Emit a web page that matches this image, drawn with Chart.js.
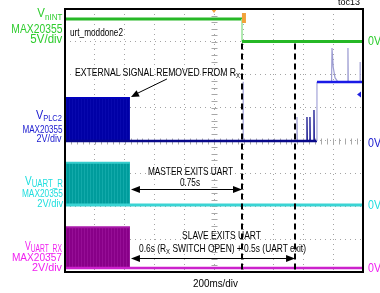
<!DOCTYPE html>
<html><head><meta charset="utf-8">
<script src="https://cdn.jsdelivr.net/npm/chart.js@4.4.1/dist/chart.umd.min.js"></script>
<style>
html,body{margin:0;padding:0;background:#fff;}
#wrap{position:relative;width:380px;height:293px;overflow:hidden;font-family:"Liberation Sans",Arial,sans-serif;}
#c{position:absolute;left:0;top:0;}
.t{position:absolute;white-space:nowrap;line-height:1;}
.t sub{font-size:0.7em;vertical-align:baseline;position:relative;top:0.3em;line-height:0;}
.t sub.big{font-size:0.78em;top:0.22em;}
</style></head><body>
<div id="wrap"><canvas id="c" width="380" height="293"></canvas></div>
<script>
// ---- data: time in ms (200 ms/div, 10 div), values in volts ----
const timeRangeMs = [0, 2000];
const tickStepMs = 200;
const eventMs = { removed: 436, masterExit: 1188, slaveExit: 1544 };

// VnINT (MAX20355), 5 V/div
const vnint = [[0, 3.42], [1188, 3.42], [1188, 0], [2000, 0]];
// VPLC2 (MAX20355), 2 V/div
const vplc2Burst = [[0, 2.62], [436, 2.62]];
const vplc2 = [[0, 0], [1691, 0], [1691, 3.59], [2000, 3.59]];
const vplc2SpikesLight = [
  [[1195, 0], [1195, 3.6], [1197, 0]],
  [[1557, 0], [1557, 1.46], [1559, 0]],
  [[1789, 3.59], [1792, 5.66], [1800, 4.5], [1812, 3.85], [1832, 3.59]],
  [[1899, 3.59], [1899, 5.66], [1901, 3.59]],
  [[1980, 3.59], [1980, 4.8], [1982, 3.59]]
];
const vplc2SpikesDark = [
  [[1624, 0], [1624, 1.46], [1626, 0]],
  [[1644, 0], [1644, 1.46], [1646, 0]],
  [[1671, 0], [1671, 1.89], [1673, 0]]
];
// VUART_R (MAX20355), 2 V/div
const uartRBurst = [[0, 2.56], [436, 2.56]];
const uartR = [[0, 0], [2000, 0]];
// VUART_RX (MAX20357), 2 V/div
const uartRxBurst = [[0, 2.49], [436, 2.49]];
const uartRx = [[0, 0], [2000, 0]];

const voltsPerDiv = { green: 5, blue: 2, cyan: 2, magenta: 2 };

// ---- colours ----
const G = '#2ecc2e', B = '#2020d0', C = '#1fdede', M = '#f020f0', K = '#000';

// ---- texts ----
const labelItems = [
  ['V<sub>nINT</sub>', 'r', 62, 18, 12.5, 25, G],
  ['MAX20355', 'r', 62, 33, 12, 51, G],
  ['5V/div', 'r', 62, 43, 12, 32, G],
  ['V<sub>PLC2</sub>', 'r', 62, 119, 12, 26, B],
  ['MAX20355', 'r', 62, 133, 11, 40, B],
  ['2V/div', 'r', 62, 142, 11, 25, B],
  ['V<sub class="big">UART_R</sub>', 'r', 63, 185, 13.5, 38, C],
  ['MAX20355', 'r', 63, 197, 10.5, 41, C],
  ['2V/div', 'r', 63, 207, 10.5, 26, C],
  ['V<sub class="big">UART_RX</sub>', 'r', 62, 250, 13.5, 37, M],
  ['MAX20357', 'r', 62, 262, 11.5, 50, M],
  ['2V/div', 'r', 62, 272, 11.5, 30, M],
  ['urt_moddone2', 'l', 70, 36, 11, 53, K],
  ['EXTERNAL SIGNAL REMOVED FROM R<sub>X</sub>', 'l', 75, 76, 10.5, 165, K],
  ['MASTER EXITS UART', 'l', 148, 175, 10.5, 85, K],
  ['0.75s', 'l', 180, 186, 10.5, 20, K],
  ['SLAVE EXITS UART', 'l', 182, 239, 10.5, 79, K],
  ['0.6s (R<sub>X</sub> SWITCH OPEN) + 0.5s (UART exit)', 'l', 139, 252, 10.5, 167, K],
  ['200ms/div', 'l', 193, 288, 11.5, 45, K],
  ['toc13', 'l', 338, 6, 9, 22, K],
  ['0V', 'l', 368, 45, 12, 13, G],
  ['0V', 'l', 368, 147, 12, 13, B],
  ['0V', 'l', 368, 209, 12, 13, C],
  ['0V', 'l', 368, 272.5, 12, 13, M]
];

const wrap = document.getElementById('wrap');
labelItems.forEach(([html, anchor, x, base, fs, w, col]) => {
  const d = document.createElement('div');
  d.className = 't';
  d.innerHTML = html;
  d.style.fontSize = fs + 'px';
  d.style.color = col;
  d.style.top = (base - 0.8465 * fs) + 'px';
  if (anchor === 'r') { d.style.right = (380 - x) + 'px'; d.style.transformOrigin = 'right center'; }
  else { d.style.left = x + 'px'; d.style.transformOrigin = 'left center'; }
  wrap.appendChild(d);
  const aw = d.getBoundingClientRect().width;
  if (aw > 0) d.style.transform = 'scaleX(' + (w / aw).toFixed(3) + ')';
});

// ---- chart ----
const canvas = document.getElementById('c');
const ctx2d = canvas.getContext('2d');
function stripes(base, line, period) {
  const c = document.createElement('canvas');
  c.width = period; c.height = 1;
  const g = c.getContext('2d');
  g.fillStyle = base; g.fillRect(0, 0, period, 1);
  g.fillStyle = line; g.fillRect(0, 0, 1, 1);
  return ctx2d.createPattern(c, 'repeat');
}
const xy = arr => arr.map(p => ({ x: p[0], y: p[1] }));
const isVert = c => c.p0.parsed.x === c.p1.parsed.x;

function chanAxis(zeroDiv, vpd) {
  return { type: 'linear', display: false, min: -zeroDiv * vpd, max: (8 - zeroDiv) * vpd };
}
const gridCfg = { color: '#a4a4a4', lineWidth: 1, drawTicks: false };
const borderCfg = { display: false, dash: [1, 4] };

const datasets = [];
datasets.push({ data: xy(vnint), yAxisID: 'yG', borderColor: '#26b826', borderWidth: 3,
  segment: { borderColor: c => isVert(c) ? '#a6e6a6' : undefined, borderWidth: c => isVert(c) ? 1 : undefined } });
datasets.push({ data: xy(vplc2), yAxisID: 'yB', borderColor: '#08088a', borderWidth: 2.5,
  segment: {
    borderColor: c => isVert(c) ? '#a4a4d8' : (c.p0.parsed.y > 2 && c.p1.parsed.y > 2 ? '#1a1ae6' : undefined),
    borderWidth: c => isVert(c) ? 1.2 : undefined } });
vplc2SpikesDark.forEach(s => datasets.push({ data: xy(s), yAxisID: 'yB', borderColor: '#141490', borderWidth: 1.3 }));
vplc2SpikesLight.forEach(s => datasets.push({ data: xy(s), yAxisID: 'yB', borderColor: '#9c9cd2', borderWidth: 1.2 }));
datasets.push({ data: xy(uartR), yAxisID: 'yC', borderColor: '#3ad4d4', borderWidth: 3 });
datasets.push({ data: xy(uartRx), yAxisID: 'yM', borderColor: '#cc22cc', borderWidth: 2.5 });
datasets.push({ data: xy(vplc2Burst), yAxisID: 'yB', borderColor: '#0000bc', borderWidth: 2, fill: 'origin',
  backgroundColor: stripes('#0000a6', '#0808ae', 3) });
datasets.push({ data: xy(uartRBurst), yAxisID: 'yC', borderColor: '#36cccc', borderWidth: 2, fill: 'origin',
  backgroundColor: stripes('#009c9c', '#12aaaa', 3) });
datasets.push({ data: xy(uartRxBurst), yAxisID: 'yM', borderColor: '#a818a8', borderWidth: 2, fill: 'origin',
  backgroundColor: stripes('#880088', '#960e96', 3) });
datasets.forEach(d => { d.pointRadius = 0; d.tension = 0; if (d.fill === undefined) d.fill = false; });

function arrowHead(ctx, tx, ty, dx, dy, len, hw) {
  const l = Math.hypot(dx, dy), ux = dx / l, uy = dy / l;
  ctx.beginPath();
  ctx.moveTo(tx, ty);
  ctx.lineTo(tx - ux * len - uy * hw, ty - uy * len + ux * hw);
  ctx.lineTo(tx - ux * len + uy * hw, ty - uy * len - ux * hw);
  ctx.closePath(); ctx.fill();
}

const deco = {
  id: 'deco',
  beforeDatasetsDraw(chart) {
    const { ctx, scales: { x, yg } } = chart;
    ctx.save();
    ctx.strokeStyle = '#a8a8a8'; ctx.lineWidth = 1;
    const cx = Math.round(x.getPixelForValue(1000)) + 0.5, cy = Math.round(yg.getPixelForValue(4)) + 0.5;
    ctx.beginPath();
    for (let i = 0; i <= 40; i++) { const py = Math.round(yg.getPixelForValue(i * 0.2)) + 0.5; ctx.moveTo(cx - 3, py); ctx.lineTo(cx + 3, py); }
    for (let i = 0; i <= 50; i++) { const px = Math.round(x.getPixelForValue(i * 40)) + 0.5; ctx.moveTo(px, cy - 3); ctx.lineTo(px, cy + 3); }
    ctx.stroke();
    ctx.restore();
  },
  afterDatasetsDraw(chart) {
    const { ctx, chartArea: a, scales: { x, yg } } = chart;
    ctx.save();
    // dashed event lines
    ctx.strokeStyle = '#000'; ctx.lineWidth = 2; ctx.setLineDash([6, 4]);
    [eventMs.masterExit, eventMs.slaveExit].forEach(t => {
      const px = Math.round(x.getPixelForValue(t));
      ctx.beginPath(); ctx.moveTo(px, yg.getPixelForValue(6.95)); ctx.lineTo(px, yg.getPixelForValue(0.06)); ctx.stroke();
    });
    ctx.setLineDash([]);
    ctx.fillStyle = '#000'; ctx.lineWidth = 1;
    const x0 = x.getPixelForValue(eventMs.removed) + 1;
    // master / slave arrows
    [[eventMs.masterExit, 2.525], [eventMs.slaveExit, 0.426]].forEach(([t, dv]) => {
      const py = Math.round(yg.getPixelForValue(dv)) + 0.5, x1 = x.getPixelForValue(t);
      ctx.beginPath(); ctx.moveTo(x0 + 6, py); ctx.lineTo(x1 - 6, py); ctx.stroke();
      arrowHead(ctx, x0, py, -1, 0, 9, 3.5);
      arrowHead(ctx, x1, py, 1, 0, 9, 3.5);
    });
    // external signal arrow
    const ax0 = x.getPixelForValue(684), ay0 = yg.getPixelForValue(5.871);
    const ax1 = x0, ay1 = yg.getPixelForValue(5.323);
    ctx.beginPath(); ctx.moveTo(ax0, ay0); ctx.lineTo(ax1 + 5, ay1 - 3); ctx.stroke();
    arrowHead(ctx, ax1, ay1, ax1 - ax0, ay1 - ay0, 8, 3.5);
    // trigger markers
    ctx.fillStyle = '#f2a23a';
    const mx = x.getPixelForValue(1201);
    ctx.fillRect(mx - 2, 13, 4, 10);
    const tcx = x.getPixelForValue(1000);
    ctx.beginPath(); ctx.moveTo(tcx - 3, a.top); ctx.lineTo(tcx + 3, a.top); ctx.lineTo(tcx, a.top + 4); ctx.closePath(); ctx.fill();
    ctx.fillStyle = '#2020e0';
    const by = yg.getPixelForValue(5.4);
    ctx.beginPath(); ctx.moveTo(a.right - 6, by); ctx.lineTo(a.right - 2, by - 3); ctx.lineTo(a.right - 2, by + 3); ctx.closePath(); ctx.fill();
    // frame
    ctx.strokeStyle = '#000'; ctx.lineWidth = 2;
    ctx.strokeRect(a.left, a.top, a.right - a.left, a.bottom - a.top);
    ctx.restore();
  }
};

new Chart(canvas, {
  type: 'line',
  data: { datasets },
  plugins: [deco],
  options: {
    responsive: false, animation: false, devicePixelRatio: 1,
    layout: { padding: { left: 65, right: 17, top: 9, bottom: 21 } },
    plugins: { legend: { display: false }, tooltip: { enabled: false } },
    elements: { line: { borderCapStyle: 'butt' } },
    scales: {
      x: { type: 'linear', min: timeRangeMs[0], max: timeRangeMs[1], ticks: { display: false, stepSize: tickStepMs },
        grid: gridCfg, border: borderCfg },
      yg: { type: 'linear', position: 'left', min: 0, max: 8, ticks: { display: false, stepSize: 1 },
        grid: gridCfg, border: borderCfg },
      yG: chanAxis(7.01, voltsPerDiv.green),
      yB: chanAxis(3.985, voltsPerDiv.blue),
      yC: chanAxis(2.04, voltsPerDiv.cyan),
      yM: chanAxis(0.12, voltsPerDiv.magenta)
    }
  }
});
</script>
</body></html>
